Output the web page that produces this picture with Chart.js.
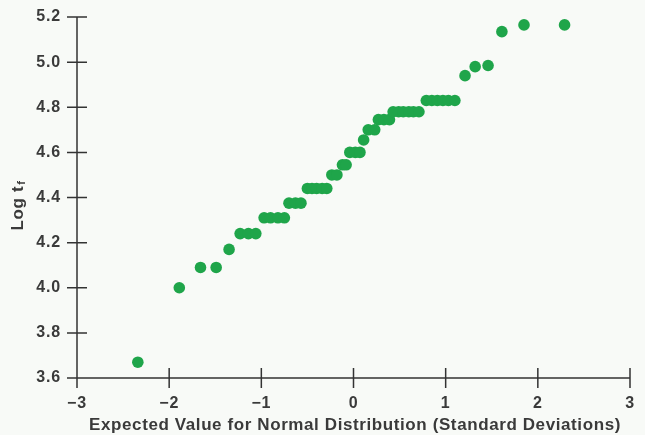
<!DOCTYPE html>
<html>
<head>
<meta charset="utf-8">
<script src="https://cdn.jsdelivr.net/npm/chart.js@4/dist/chart.umd.min.js"></script>
<style>
    html, body { margin: 0; padding: 0; background: #f8faf7; }
    #wrap { width: 645px; height: 435px; }
</style>
</head>
<body>
<div id="wrap"><canvas id="my-chart"></canvas></div>
<script>
// * Normal probability plot: expected normal score vs log of failure time

// expected value for normal distribution (x)
const normalScores = [
    -2.34, -1.89, -1.66, -1.49, -1.35, -1.23, -1.14, -1.06,
    -0.97, -0.90, -0.82, -0.75, -0.70, -0.63, -0.57,
    -0.50, -0.45, -0.40, -0.34, -0.29, -0.235, -0.18,
    -0.12, -0.08, -0.04, 0.02, 0.07, 0.11, 0.16, 0.23,
    0.27, 0.33, 0.39, 0.43, 0.49, 0.54, 0.60, 0.65, 0.71,
    0.79, 0.85, 0.91, 0.97, 1.03, 1.10,
    1.21, 1.32, 1.46, 1.61, 1.85, 2.29
]
// log tf (y)
const logTimes = [
    3.67, 4.00, 4.09, 4.09, 4.17, 4.24, 4.24, 4.24,
    4.31, 4.31, 4.31, 4.31, 4.375, 4.375, 4.375,
    4.44, 4.44, 4.44, 4.44, 4.44, 4.50, 4.50,
    4.545, 4.545, 4.60, 4.60, 4.60, 4.655, 4.70, 4.70,
    4.745, 4.745, 4.745, 4.78, 4.78, 4.78, 4.78, 4.78, 4.78,
    4.83, 4.83, 4.83, 4.83, 4.83, 4.83,
    4.94, 4.98, 4.985, 5.135, 5.165, 5.165
]
const xTicks = [-3, -2, -1, 0, 1, 2, 3]
const yTicks = [3.6, 3.8, 4.0, 4.2, 4.4, 4.6, 4.8, 5.0, 5.2]

const ctx = document.getElementById('my-chart')
const inkColor = '#3a3a3a'
const labelFont = { family: 'Liberation Sans', size: 16, weight: 'bold' }

const points = normalScores.map((x, i) => ({ x: x, y: logTimes[i] }))

// wider print-like lettering for all text
const spacingPlugin = {
    id: 'spacing',
    beforeDraw(chart) {
        chart.ctx.letterSpacing = '0.8px'
    }
}

// axis lines with ticks crossing them, plus the two axis titles
const axisPlugin = {
    id: 'axisLines',
    afterDraw(chart) {
        const c = chart.ctx
        const { x, y } = chart.scales
        const x0 = x.getPixelForValue(-3)
        const y0 = y.getPixelForValue(3.6)
        c.save()
        c.strokeStyle = '#333'
        c.lineWidth = 1.5
        c.beginPath()
        c.moveTo(x0 - 10, y0)
        c.lineTo(x.getPixelForValue(3), y0)
        c.moveTo(x0, y.getPixelForValue(5.2))
        c.lineTo(x0, y0 + 10)
        xTicks.forEach((v) => {
            const px = x.getPixelForValue(v)
            c.moveTo(px, y0 - 10)
            c.lineTo(px, y0 + 10)
        })
        yTicks.forEach((v) => {
            const py = y.getPixelForValue(v)
            c.moveTo(x0 - 10, py)
            c.lineTo(x0 + 10, py)
        })
        c.stroke()

        c.fillStyle = inkColor
        c.letterSpacing = '0.6px'
        c.font = 'bold 17px "Liberation Sans"'
        c.textAlign = 'center'
        c.textBaseline = 'middle'
        c.fillText('Expected Value for Normal Distribution (Standard Deviations)', 355, 425)

        // y title: Log t with subscript f
        c.translate(18, 206)
        c.rotate(-Math.PI / 2)
        c.textAlign = 'left'
        const main = 'Log t'
        const w = c.measureText(main).width
        c.font = 'bold 11px "Liberation Sans"'
        const ws = c.measureText('f').width
        c.font = 'bold 17px "Liberation Sans"'
        c.fillText(main, -(w + ws) / 2, 0)
        c.font = 'bold 11px "Liberation Sans"'
        c.fillText('f', -(w + ws) / 2 + w + 1, 4)
        c.restore()
    }
}

new Chart(ctx, {
    type: 'scatter',
    data: {
        datasets: [
            {
                label: 'Log tf',
                data: points,
                backgroundColor: '#1fa54a',
                borderWidth: 0,
                pointRadius: 5.8,
                pointHoverRadius: 5.8
            }
        ]
    },
    options: {
        responsive: true,
        maintainAspectRatio: false,
        animation: false,
        layout: { padding: { left: 0, right: 15, top: 17, bottom: 0 } },
        plugins: {
            legend: { display: false },
            tooltip: { enabled: false }
        },
        scales: {
            x: {
                type: 'linear',
                min: -3,
                max: 3,
                afterFit: (scale) => {
                    scale.height = 57
                    scale.paddingLeft = 0
                    scale.paddingRight = 0
                },
                afterBuildTicks: (scale) => { scale.ticks = xTicks.map((v) => ({ value: v })) },
                grid: { display: false, drawTicks: false },
                border: { display: false },
                ticks: {
                    padding: 16,
                    color: inkColor,
                    font: labelFont,
                    callback: (v) => (v < 0 ? '\u2212' + Math.abs(v) : String(v))
                }
            },
            y: {
                type: 'linear',
                min: 3.6,
                max: 5.2,
                afterFit: (scale) => {
                    scale.width = 77
                    scale.paddingTop = 0
                    scale.paddingBottom = 0
                },
                afterBuildTicks: (scale) => { scale.ticks = yTicks.map((v) => ({ value: v })) },
                grid: { display: false, drawTicks: false },
                border: { display: false },
                ticks: {
                    padding: 16,
                    color: inkColor,
                    font: labelFont,
                    callback: (v) => Number(v).toFixed(1)
                }
            }
        }
    },
    plugins: [spacingPlugin, axisPlugin]
})
</script>
</body>
</html>
